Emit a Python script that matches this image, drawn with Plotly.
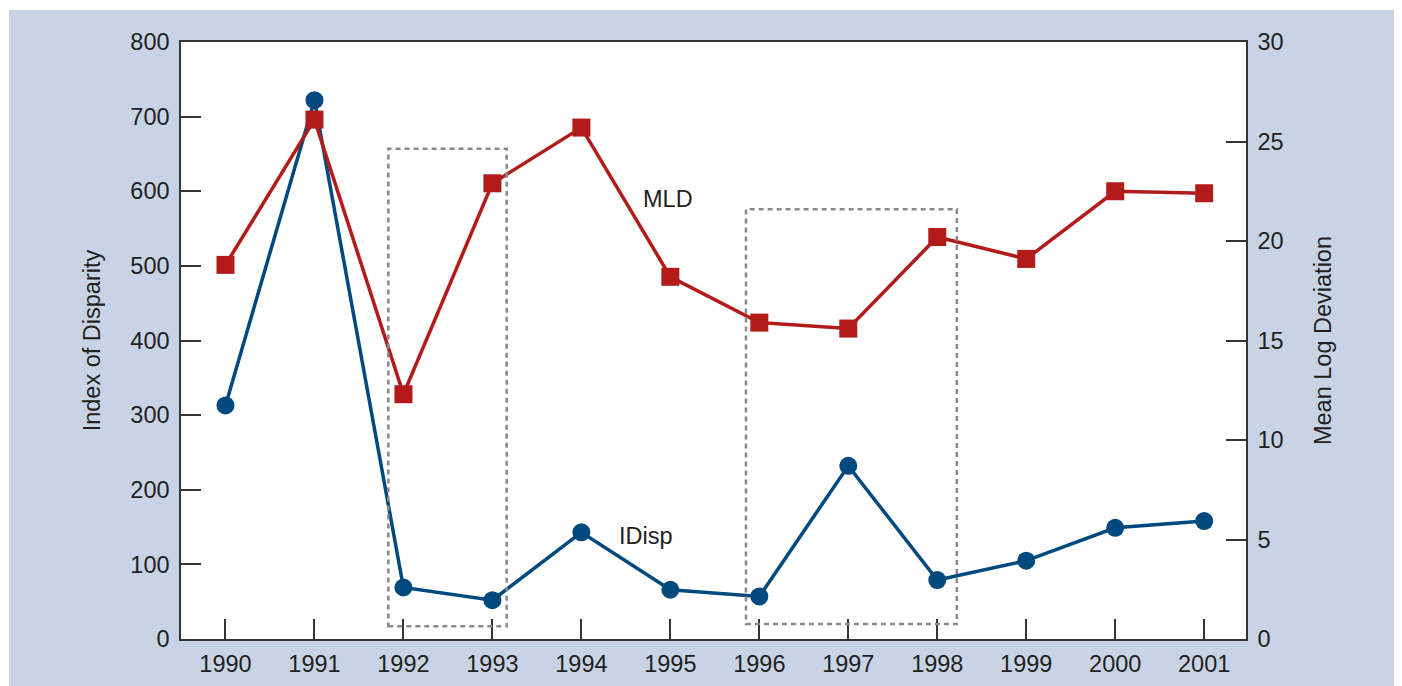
import plotly.graph_objects as go

# data
years = [1990, 1991, 1992, 1993, 1994, 1995, 1996, 1997, 1998, 1999, 2000, 2001]
idisp = [313, 722, 69, 52, 143, 66, 57, 232, 79, 105, 149, 158]
mld = [18.8, 26.1, 12.3, 22.9, 25.7, 18.2, 15.9, 15.6, 20.2, 19.1, 22.5, 22.4]

red = "#b31b1b"
blue = "#00497f"
bg = "#c9d3e6"
txt = "#231f20"
fnt = dict(family="Liberation Sans, Arial, sans-serif", size=23.5, color=txt)

fig = go.Figure()

fig.add_trace(go.Scatter(x=years, y=mld, yaxis="y2", mode="lines+markers",
                         line=dict(color=red, width=3.5),
                         marker=dict(symbol="square", size=18, color=red),
                         name="MLD", showlegend=False))
fig.add_trace(go.Scatter(x=years, y=idisp, mode="lines+markers",
                         line=dict(color=blue, width=3.5),
                         marker=dict(symbol="circle", size=18, color=blue),
                         name="IDisp", showlegend=False))

# page body adds 8px, so figure is a bit smaller than the window
W, H = 1394, 678
ml, mr, mt, mb = 173, 156, 34, 47
pw, ph = W - ml - mr, H - mt - mb

# blue-gray backdrop behind the whole figure
fig.add_shape(type="rect", xref="paper", yref="paper", layer="below",
              x0=(1 - ml) / pw, x1=(W - ml) / pw,
              y0=-mb / ph, y1=(H - 2 - mb) / ph,
              fillcolor=bg, line=dict(width=0))
fig.add_shape(type="rect", xref="paper", yref="paper", layer="below",
              x0=0, x1=1, y0=0, y1=1, fillcolor="white", line=dict(width=0))

# dashed boxes
box = dict(color="#8a8a8a", width=2.5, dash="5px,4px")
fig.add_shape(type="rect", x0=1991.83, x1=1993.16, y0=17, y1=657, line=box)
fig.add_shape(type="rect", x0=1995.85, x1=1998.22, y0=20, y1=576, line=box)

fig.add_annotation(x=1994.97, y=590, text="MLD", showarrow=False, font=fnt)
fig.add_annotation(x=1994.73, y=138, text="IDisp", showarrow=False, font=fnt)

axline = dict(showline=True, linecolor="#333333", linewidth=1.5, showgrid=False,
              zeroline=False, ticks="inside", ticklen=20, tickcolor="#333333",
              tickwidth=1.5, tickfont=fnt, automargin=False)

fig.update_layout(
    width=W, height=H,
    margin=dict(l=ml, r=mr, t=mt, b=mb),
    paper_bgcolor="white", plot_bgcolor="white",
    xaxis=dict(range=[1989.5, 2001.47], tickvals=years, mirror=True,
               ticklabelstandoff=3, **axline),
    yaxis=dict(range=[0, 800], dtick=100, mirror=True, ticklabelstandoff=5,
               title=dict(text="Index of Disparity", font=fnt, standoff=23),
               **axline),
    yaxis2=dict(range=[0, 30], dtick=5, overlaying="y", side="right",
                ticklabelstandoff=5,
                title=dict(text="Mean Log Deviation", font=fnt, standoff=32),
                **axline),
)

fig.write_html("out.html")
